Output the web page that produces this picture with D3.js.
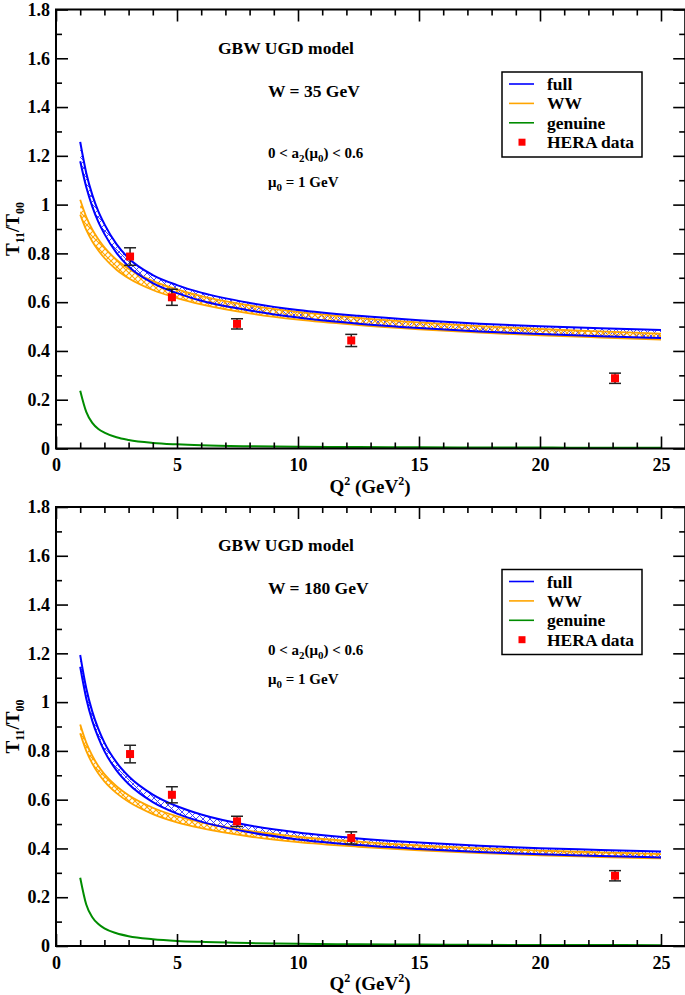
<!DOCTYPE html>
<html>
<head>
<meta charset="utf-8">
<script src="https://cdn.jsdelivr.net/npm/d3@7"></script>
<style>
  html, body { margin: 0; padding: 0; background: #fff; }
  svg { display: block; }
  svg text { font-family: "Liberation Serif", "Times New Roman", "DejaVu Serif", serif !important; font-weight: bold; fill: #000; }
</style>
</head>
<body>
<svg id="chart" width="685" height="995"></svg>
<script>
// ---------------- data ----------------
const q2 = [1, 1.25, 1.5, 1.75, 2, 2.5, 3, 4, 5, 6, 8, 10, 12.5, 15, 17.5, 20, 22.5, 25];

// W = 35 GeV
const fullUpper35  = [1.257, 1.130, 1.040, 0.972, 0.920, 0.838, 0.780, 0.711, 0.670, 0.639, 0.597, 0.568, 0.544, 0.526, 0.512, 0.501, 0.493, 0.486];
const fullLower35  = [1.178, 1.072, 0.992, 0.929, 0.880, 0.802, 0.746, 0.678, 0.637, 0.606, 0.566, 0.537, 0.512, 0.494, 0.480, 0.469, 0.460, 0.453];
const wwUpper35    = [1.020, 0.950, 0.898, 0.858, 0.825, 0.774, 0.737, 0.687, 0.652, 0.625, 0.587, 0.560, 0.536, 0.517, 0.502, 0.490, 0.480, 0.471];
const wwLower35    = [0.959, 0.896, 0.849, 0.812, 0.781, 0.733, 0.698, 0.650, 0.617, 0.591, 0.554, 0.528, 0.506, 0.489, 0.475, 0.464, 0.455, 0.447];
const genuine35    = [0.237, 0.150, 0.105, 0.080, 0.065, 0.046, 0.035, 0.023, 0.017, 0.013, 0.009, 0.007, 0.006, 0.005, 0.004, 0.004, 0.003, 0.003];

// W = 180 GeV
const fullUpper180 = [1.193, 1.057, 0.961, 0.890, 0.834, 0.753, 0.696, 0.621, 0.573, 0.539, 0.494, 0.465, 0.441, 0.424, 0.411, 0.401, 0.394, 0.387];
const fullLower180 = [1.145, 1.015, 0.923, 0.854, 0.799, 0.720, 0.664, 0.590, 0.543, 0.510, 0.466, 0.437, 0.414, 0.398, 0.385, 0.376, 0.369, 0.363];
const wwUpper180   = [0.908, 0.834, 0.780, 0.738, 0.705, 0.655, 0.618, 0.567, 0.532, 0.507, 0.472, 0.448, 0.428, 0.412, 0.401, 0.391, 0.384, 0.377];
const wwLower180   = [0.872, 0.800, 0.748, 0.707, 0.675, 0.627, 0.591, 0.541, 0.507, 0.483, 0.449, 0.426, 0.407, 0.392, 0.381, 0.372, 0.365, 0.359];
const genuine180   = [0.280, 0.170, 0.118, 0.090, 0.072, 0.052, 0.040, 0.028, 0.021, 0.017, 0.012, 0.009, 0.007, 0.006, 0.005, 0.004, 0.004, 0.003];

// HERA data (same points in both panels)
const heraQ2  = [3.06, 4.79, 7.48, 12.2, 23.1];
const heraVal = [0.787, 0.620, 0.511, 0.443, 0.288];
const heraErr = [0.036, 0.033, 0.021, 0.025, 0.021];

const xMajorTicks = [0, 5, 10, 15, 20, 25];
const yMajorTicks = [0, 0.2, 0.4, 0.6, 0.8, 1.0, 1.2, 1.4, 1.6, 1.8];
const legendLabels = ["full", "WW", "genuine", "HERA data"];
const panelTitles = ["W = 35 GeV", "W = 180 GeV"];

// ---------------- drawing ----------------
const svg = d3.select("#chart");
const BLUE = "#0000ff", ORANGE = "#ffa500", GREEN = "#008c00", RED = "#ff0000";
const FONT = "'Liberation Serif', 'Times New Roman', serif";

const defs = svg.append("defs");
function hatch(id, color, size, sw) {
  const p = defs.append("pattern").attr("id", id).attr("patternUnits", "userSpaceOnUse")
    .attr("width", size).attr("height", size);
  p.append("path").attr("d", `M0,0 L${size},${size} M${size},0 L0,${size}`)
    .attr("stroke", color).attr("stroke-width", sw).attr("fill", "none");
}
hatch("hatchBlue", BLUE, 7, 0.9);
hatch("hatchOrange", ORANGE, 6, 1.1);

const left = 56, right = 685.2;
const x = d3.scaleLinear().domain([0, 26]).range([left, right]);

function panel(top, bottom, d, title) {
  const y = d3.scaleLinear().domain([0, 1.8]).range([bottom, top]);
  const g = svg.append("g").attr("font-family", FONT).attr("font-weight", "bold");
  const line = arr => d3.line().x((v, i) => x(q2[i])).y(v => y(v)).curve(d3.curveMonotoneX)(arr);
  const area = (up, lo) => d3.area().x((v, i) => x(q2[i])).y0((v, i) => y(lo[i])).y1(v => y(v))
    .curve(d3.curveMonotoneX)(up);

  // bands
  g.append("path").attr("d", area(d.fullUp, d.fullLo)).attr("fill", "url(#hatchBlue)").attr("opacity", 0.8);
  g.append("path").attr("d", area(d.wwUp, d.wwLo)).attr("fill", "url(#hatchOrange)");

  // boundary lines
  [d.wwUp, d.wwLo].forEach(a => g.append("path").attr("d", line(a)).attr("fill", "none")
    .attr("stroke", ORANGE).attr("stroke-width", 1.8));
  [d.fullUp, d.fullLo].forEach(a => g.append("path").attr("d", line(a)).attr("fill", "none")
    .attr("stroke", BLUE).attr("stroke-width", 2));
  g.append("path").attr("d", line(d.gen)).attr("fill", "none")
    .attr("stroke", GREEN).attr("stroke-width", 2);

  // HERA data with error bars
  const pts = g.append("g");
  heraQ2.forEach((q, i) => {
    const cx = x(q), v = heraVal[i], e = heraErr[i];
    pts.append("line").attr("x1", cx).attr("x2", cx).attr("y1", y(v + e)).attr("y2", y(v - e))
      .attr("stroke", "#000").attr("stroke-width", 1.3);
    [v + e, v - e].forEach(t => pts.append("line").attr("x1", cx - 6).attr("x2", cx + 6)
      .attr("y1", y(t)).attr("y2", y(t)).attr("stroke", "#222").attr("stroke-width", 1.5));
    pts.append("rect").attr("x", cx - 4).attr("y", y(v) - 4).attr("width", 8).attr("height", 8)
      .attr("fill", RED);
  });

  // axes (ticks inward on all sides)
  const fmt = v => String(+v.toFixed(1));
  const xMinor = d3.range(1, 26).filter(v => v % 5 !== 0);
  const yMinor = d3.range(1, 18, 2).map(v => v / 10);
  const styleAxis = sel => {
    sel.attr("font-family", FONT).attr("font-size", 18).attr("font-weight", "bold");
    sel.select(".domain").remove();
    sel.selectAll(".tick line").attr("stroke", "#000").attr("stroke-width", 1.6);
    sel.selectAll("text").attr("fill", "#000");
  };
  g.append("g").attr("transform", `translate(0,${bottom})`)
    .call(d3.axisBottom(x).tickValues(xMajorTicks).tickSizeInner(-12).tickSizeOuter(0).tickPadding(10).tickFormat(fmt))
    .call(styleAxis);
  g.append("g").attr("transform", `translate(0,${bottom})`)
    .call(d3.axisBottom(x).tickValues(xMinor).tickSizeInner(-6).tickSizeOuter(0).tickFormat(""))
    .call(styleAxis);
  g.append("g").attr("transform", `translate(0,${top})`)
    .call(d3.axisTop(x).tickValues(xMajorTicks).tickSizeInner(-12).tickSizeOuter(0).tickFormat(""))
    .call(styleAxis);
  g.append("g").attr("transform", `translate(0,${top})`)
    .call(d3.axisTop(x).tickValues(xMinor).tickSizeInner(-6).tickSizeOuter(0).tickFormat(""))
    .call(styleAxis);
  g.append("g").attr("transform", `translate(${left},0)`)
    .call(d3.axisLeft(y).tickValues(yMajorTicks).tickSizeInner(-12).tickSizeOuter(0).tickPadding(6).tickFormat(fmt))
    .call(styleAxis);
  g.append("g").attr("transform", `translate(${left},0)`)
    .call(d3.axisLeft(y).tickValues(yMinor).tickSizeInner(-6).tickSizeOuter(0).tickFormat(""))
    .call(styleAxis);
  g.append("g").attr("transform", `translate(${right},0)`)
    .call(d3.axisRight(y).tickValues(yMajorTicks).tickSizeInner(-12).tickSizeOuter(0).tickFormat(""))
    .call(styleAxis);
  g.append("g").attr("transform", `translate(${right},0)`)
    .call(d3.axisRight(y).tickValues(yMinor).tickSizeInner(-6).tickSizeOuter(0).tickFormat(""))
    .call(styleAxis);

  // frame
  g.append("rect").attr("x", left).attr("y", top).attr("width", right - left).attr("height", bottom - top)
    .attr("fill", "none").attr("stroke", "#000").attr("stroke-width", 2);

  // axis titles
  const xt = g.append("text").attr("x", 370).attr("y", bottom + 44)
    .attr("text-anchor", "middle").attr("font-size", 19);
  xt.append("tspan").text("Q");
  xt.append("tspan").text("2").attr("dy", -8).attr("font-size", 12);
  xt.append("tspan").text(" (GeV").attr("dy", 8);
  xt.append("tspan").text("2").attr("dy", -8).attr("font-size", 12);
  xt.append("tspan").text(")").attr("dy", 8);

  const yt = g.append("text").attr("transform", `translate(19,${(top + bottom) / 2}) rotate(-90)`)
    .attr("text-anchor", "middle").attr("font-size", 19);
  yt.append("tspan").text("T");
  yt.append("tspan").text("11").attr("dy", 5).attr("font-size", 12);
  yt.append("tspan").text("/T").attr("dy", -5);
  yt.append("tspan").text("00").attr("dy", 5).attr("font-size", 12);

  // annotations
  g.append("text").attr("x", 218).attr("y", top + 44).attr("font-size", 17.5).text("GBW UGD model");
  g.append("text").attr("x", 268).attr("y", top + 87).attr("font-size", 17.5).text(title);
  const a2 = g.append("text").attr("x", 268).attr("y", top + 148).attr("font-size", 15);
  a2.append("tspan").text("0 < a");
  a2.append("tspan").text("2").attr("dy", 4).attr("font-size", 11);
  a2.append("tspan").text("(μ").attr("dy", -4);
  a2.append("tspan").text("0").attr("dy", 4).attr("font-size", 11);
  a2.append("tspan").text(") < 0.6").attr("dy", -4);
  const mu = g.append("text").attr("x", 268).attr("y", top + 177).attr("font-size", 15);
  mu.append("tspan").text("μ");
  mu.append("tspan").text("0").attr("dy", 4).attr("font-size", 11);
  mu.append("tspan").text(" = 1 GeV").attr("dy", -4);

  // legend
  const lg = g.append("g").attr("transform", `translate(502,${top + 62.5})`);
  lg.append("rect").attr("width", 140).attr("height", 85).attr("fill", "#fff")
    .attr("stroke", "#000").attr("stroke-width", 1.5);
  const cols = [BLUE, ORANGE, GREEN];
  legendLabels.forEach((lab, i) => {
    const yy = 12 + i * 19.4;
    if (i < 3) {
      lg.append("line").attr("x1", 7).attr("x2", 32).attr("y1", yy).attr("y2", yy)
        .attr("stroke", cols[i]).attr("stroke-width", 1.6);
    } else {
      lg.append("rect").attr("x", 16.5).attr("y", yy - 3.5).attr("width", 7).attr("height", 7).attr("fill", RED);
    }
    lg.append("text").attr("x", 45).attr("y", yy + 6).attr("font-size", 17.5).text(lab);
  });
}

panel(9.5, 448.5, {fullUp: fullUpper35, fullLo: fullLower35, wwUp: wwUpper35, wwLo: wwLower35, gen: genuine35}, panelTitles[0]);
panel(507, 946, {fullUp: fullUpper180, fullLo: fullLower180, wwUp: wwUpper180, wwLo: wwLower180, gen: genuine180}, panelTitles[1]);
</script>
</body>
</html>
